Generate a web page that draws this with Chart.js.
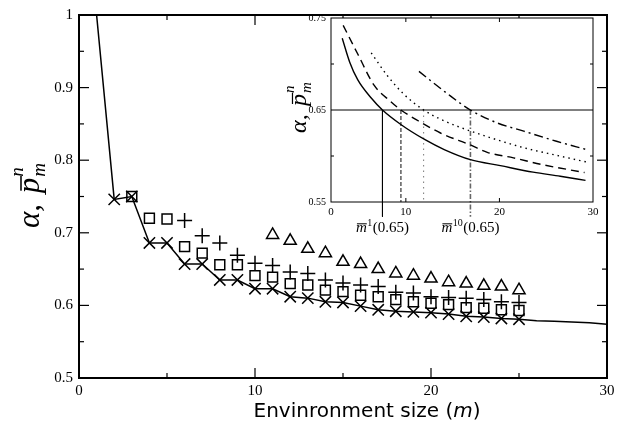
<!DOCTYPE html>
<html>
<head>
<meta charset="utf-8">
<script src="https://cdn.jsdelivr.net/npm/chart.js@4.4.1/dist/chart.umd.min.js"></script>
<style>
  html, body { margin: 0; padding: 0; background: #fff; }
  #wrap { position: relative; width: 633px; height: 424px; }
  #wrap canvas { position: absolute; left: 0; top: 0; }
</style>
</head>
<body>
<div id="wrap">
  <canvas id="mainChart" width="633" height="424"></canvas>
  <canvas id="insetChart" width="633" height="424"></canvas>
</div>
<script>
// ---- main panel data (environment size m) ----
const alphaM    = [1, 2, 3, 4, 5, 6, 7, 8, 9, 10, 11, 12, 13, 14, 15, 16, 17, 18, 19, 20, 21, 22, 23, 24, 25, 26, 27, 28, 29, 30];
const alphaVals = [1.0, 0.746, 0.750, 0.686, 0.686, 0.657, 0.657, 0.635, 0.635, 0.623, 0.623, 0.612, 0.610, 0.605, 0.604,
                   0.599, 0.594, 0.592, 0.591, 0.590, 0.588, 0.585, 0.584, 0.582, 0.581, 0.579, 0.578, 0.577, 0.576, 0.574];

const crossM    = [2, 3, 4, 5, 6, 7, 8, 9, 10, 11, 12, 13, 14, 15, 16, 17, 18, 19, 20, 21, 22, 23, 24, 25];
const crossVals = [0.746, 0.750, 0.686, 0.686, 0.657, 0.657, 0.635, 0.635, 0.623, 0.623, 0.612, 0.610,
                   0.605, 0.604, 0.599, 0.594, 0.592, 0.591, 0.590, 0.588, 0.585, 0.584, 0.582, 0.581];

const squareM    = [3, 4, 5, 6, 7, 8, 9, 10, 11, 12, 13, 14, 15, 16, 17, 18, 19, 20, 21, 22, 23, 24, 25];
const squareVals = [0.750, 0.720, 0.719, 0.681, 0.672, 0.656, 0.656, 0.641, 0.639, 0.630, 0.628, 0.621,
                    0.619, 0.614, 0.612, 0.608, 0.605, 0.603, 0.601, 0.597, 0.596, 0.594, 0.593];

const plusM    = [6, 7, 8, 9, 10, 11, 12, 13, 14, 15, 16, 17, 18, 19, 20, 21, 22, 23, 24, 25];
const plusVals = [0.717, 0.696, 0.686, 0.669, 0.658, 0.655, 0.646, 0.644, 0.635, 0.631, 0.628, 0.626,
                  0.618, 0.617, 0.612, 0.611, 0.610, 0.608, 0.605, 0.604];

const triM    = [11, 12, 13, 14, 15, 16, 17, 18, 19, 20, 21, 22, 23, 24, 25];
const triVals = [0.697, 0.689, 0.678, 0.672, 0.660, 0.657, 0.650, 0.644, 0.641, 0.637, 0.632, 0.630, 0.627, 0.626, 0.621];

const mainXTicks = [0, 10, 20, 30];
const mainYTicks = [0.5, 0.6, 0.7, 0.8, 0.9, 1];

// ---- inset data (curves crossing the 0.65 level) ----
const insetSolidM  = [3.2, 4.0, 4.85, 6.3, 7.5, 9.5, 12, 14.1, 16.9, 20.1, 23.6, 26.5, 29.2];
const insetSolid   = [0.728, 0.702, 0.683, 0.663, 0.650, 0.634, 0.618, 0.607, 0.596, 0.5895, 0.5825, 0.578, 0.5735];

const insetDashedM = [3.3, 4.9, 6.6, 8.4, 9.47, 11.2, 13.7, 16.9, 18.7, 21.5, 24.4, 29.1];
const insetDashed  = [0.742, 0.710, 0.677, 0.659, 0.650, 0.639, 0.625, 0.612, 0.604, 0.598, 0.591, 0.582];

const insetDottedM = [6.3, 8.05, 9.8, 11.9, 13.7, 15.85, 19, 22.6, 26, 29.3];
const insetDotted  = [0.712, 0.687, 0.667, 0.650, 0.640, 0.631, 0.620, 0.609, 0.601, 0.5935];

const insetDashDotM = [11.4, 14.4, 16.9, 19.75, 22.6, 26.1, 29.3];
const insetDashDot  = [0.692, 0.668, 0.650, 0.636, 0.627, 0.616, 0.607];

const level = 0.65;
const crossings   = [7.5, 9.47, 11.9, 16.9];      // m where each curve hits the level
const dropTo      = [0.534, 0.55, 0.55, 0.534];   // how far each marker line goes down
const insetXTicks  = [2, 10, 20, 30];
const insetXLabels = ['0', '10', '20', '30'];
const insetYTicks  = [0.55, 0.65, 0.75];

function pts(xs, ys) {
    return xs.map((x, i) => ({ x: x, y: ys[i] }));
}

function line(ctx, x1, y1, x2, y2) {
    ctx.beginPath();
    ctx.moveTo(x1, y1);
    ctx.lineTo(x2, y2);
    ctx.stroke();
}

// rotated "alpha, p-bar^n_m" axis title
function drawAlphaTitle(ctx, cx, cy, size) {
    ctx.save();
    ctx.translate(cx, cy);
    ctx.rotate(-Math.PI / 2);
    ctx.fillStyle = '#000';
    const big = 'italic ' + size + 'px "Liberation Serif"';
    const small = 'italic ' + Math.round(size * 0.62) + 'px "Liberation Serif"';
    ctx.font = big;
    const wa = ctx.measureText('\u03b1,').width;
    const wp = ctx.measureText('p').width;
    ctx.font = small;
    const ws = ctx.measureText('m').width;
    const gap = size * 0.35;
    let x0 = -(wa + gap + wp + ws) / 2;
    const base = size * 0.22;
    ctx.font = big;
    ctx.fillText('\u03b1,', x0, base);
    x0 += wa + gap;
    ctx.fillText('p', x0, base);
    ctx.fillRect(x0 + size * 0.08, base - size * 0.6, wp * 0.95, Math.max(1, size * 0.05));
    x0 += wp + 1;
    ctx.font = small;
    ctx.fillText('n', x0, base - size * 0.5);
    ctx.fillText('m', x0, base + size * 0.2);
    ctx.restore();
}

// "m-bar^k(0.65)" label under the inset
function drawMbar(ctx, cx, base, sup, size) {
    const it = 'italic ' + size + 'px "Liberation Serif"';
    const sm = Math.round(size * 0.68) + 'px "Liberation Serif"';
    const nm = size + 'px "Liberation Serif"';
    const tail = '(' + level.toFixed(2) + ')';
    ctx.font = it; const wm = ctx.measureText('m').width;
    ctx.font = sm; const wsup = ctx.measureText(sup).width;
    ctx.font = nm; const wt = ctx.measureText(tail).width;
    let x0 = cx - (wm + wsup + 1 + wt) / 2;
    ctx.fillStyle = '#000';
    ctx.font = it; ctx.fillText('m', x0, base);
    ctx.fillRect(x0 + 1, base - size * 0.58, wm - 1, 1);
    x0 += wm + 0.5;
    ctx.font = sm; ctx.fillText(sup, x0, base - size * 0.38);
    x0 += wsup + 0.5;
    ctx.font = nm; ctx.fillText(tail, x0, base);
}

const mainDecor = {
    id: 'mainDecor',
    afterDraw(chart) {
        const { ctx, chartArea: a, scales: { x, y } } = chart;
        ctx.save();
        ctx.strokeStyle = '#000';
        ctx.lineWidth = 1.2;
        for (let v = 0; v <= 30; v += 5) {
            const px = x.getPixelForValue(v);
            const len = v % 10 === 0 ? 10 : 5;
            line(ctx, px, a.bottom, px, a.bottom - len);
            line(ctx, px, a.top, px, a.top + len);
        }
        for (let k = 0; k <= 10; k++) {
            const py = y.getPixelForValue(0.5 + k * 0.05);
            const len = k % 2 === 0 ? 10 : 5;
            line(ctx, a.left, py, a.left + len, py);
            line(ctx, a.right, py, a.right - len, py);
        }
        ctx.lineWidth = 2;
        ctx.strokeRect(a.left, a.top, a.right - a.left, a.bottom - a.top);

        // x title with italic m
        ctx.fillStyle = '#000';
        const f1 = '20px "DejaVu Sans"', f2 = 'italic 20px "DejaVu Sans"';
        ctx.font = f1; const w1 = ctx.measureText('Envinronment size (').width;
        const w3 = ctx.measureText(')').width;
        ctx.font = f2; const w2 = ctx.measureText('m').width;
        let tx = 367 - (w1 + w2 + w3) / 2;
        const ty = 417;
        ctx.font = f1; ctx.fillText('Envinronment size (', tx, ty);
        ctx.font = f2; ctx.fillText('m', tx + w1, ty);
        ctx.font = f1; ctx.fillText(')', tx + w1 + w2, ty);

        drawAlphaTitle(ctx, 32, 196, 31);
        ctx.restore();
    }
};

const insetDecor = {
    id: 'insetDecor',
    beforeDatasetsDraw(chart) {
        const { ctx, chartArea: a } = chart;
        ctx.save();
        ctx.fillStyle = '#fff';
        ctx.fillRect(a.left, a.top, a.right - a.left, a.bottom - a.top);
        ctx.restore();
    },
    afterDraw(chart) {
        const { ctx, chartArea: a, scales: { x, y } } = chart;
        ctx.save();
        ctx.strokeStyle = '#000';
        ctx.lineWidth = 1;
        [10, 20].forEach(v => {
            const px = x.getPixelForValue(v);
            line(ctx, px, a.bottom, px, a.bottom - 4);
            line(ctx, px, a.top, px, a.top + 4);
        });
        [0.6, 0.7].forEach(v => {
            const py = y.getPixelForValue(v);
            line(ctx, a.left, py, a.left + 3, py);
            line(ctx, a.right, py, a.right - 3, py);
        });
        ctx.strokeRect(a.left, a.top, a.right - a.left, a.bottom - a.top);

        drawMbar(ctx, x.getPixelForValue(crossings[0]), 232, '1', 15);
        drawMbar(ctx, x.getPixelForValue(crossings[3]), 232, '10', 15);
        drawAlphaTitle(ctx, 301, 108, 24);
        ctx.restore();
    }
};

const markerBase = {
    showLine: false,
    borderColor: '#000',
    backgroundColor: 'rgba(0,0,0,0)',
    borderWidth: 1.5
};

new Chart(document.getElementById('mainChart'), {
    type: 'scatter',
    data: {
        datasets: [
            { type: 'line', data: pts(alphaM, alphaVals), showLine: true, borderColor: '#000',
              borderWidth: 1.5, pointRadius: 0, tension: 0, fill: false },
            Object.assign({ data: pts(crossM, crossVals), pointStyle: 'crossRot', pointRadius: 8 }, markerBase),
            Object.assign({ data: pts(squareM, squareVals), pointStyle: 'rect', pointRadius: 7 }, markerBase),
            Object.assign({ data: pts(plusM, plusVals), pointStyle: 'cross', pointRadius: 7.5 }, markerBase),
            Object.assign({ data: pts(triM, triVals), pointStyle: 'triangle', pointRadius: 7 }, markerBase)
        ]
    },
    options: {
        responsive: false,
        animation: false,
        events: [],
        layout: { padding: { left: 0, right: 26, top: 8, bottom: 0 } },
        plugins: { legend: { display: false }, tooltip: { enabled: false } },
        scales: {
            x: {
                type: 'linear', min: 0, max: 30,
                afterBuildTicks: s => { s.ticks = mainXTicks.map(v => ({ value: v })); },
                afterFit: s => { s.height = 46; },
                grid: { display: false, drawTicks: false },
                border: { display: false },
                ticks: { color: '#000', padding: 4, maxRotation: 0,
                         font: { family: 'Liberation Serif', size: 15 } }
            },
            y: {
                min: 0.5, max: 1,
                afterBuildTicks: s => { s.ticks = mainYTicks.map(v => ({ value: v })); },
                afterFit: s => { s.width = 79; },
                grid: { display: false, drawTicks: false },
                border: { display: false },
                ticks: { color: '#000', padding: 6,
                         font: { family: 'Liberation Serif', size: 15 },
                         callback: v => String(Math.round(v * 10) / 10) }
            }
        }
    },
    plugins: [mainDecor]
});

const curve = (xs, ys, dash) => ({
    type: 'line', data: pts(xs, ys), showLine: true, borderColor: '#000', borderWidth: 1.4,
    borderDash: dash, pointRadius: 0, cubicInterpolationMode: 'monotone', fill: false
});
const dashes = [[], [8, 5], [1.5, 4], [9, 4, 2, 4]];
const dropColors = ['#000', '#666', '#777', '#666'];
const dropWidths = [1, 1.6, 1, 1.6];

const insetSets = [
    curve(insetSolidM, insetSolid, dashes[0]),
    curve(insetDashedM, insetDashed, dashes[1]),
    curve(insetDottedM, insetDotted, dashes[2]),
    curve(insetDashDotM, insetDashDot, dashes[3]),
    { type: 'line', data: [{ x: insetXTicks[0], y: level }, { x: insetXTicks[3], y: level }],
      showLine: true, borderColor: '#000', borderWidth: 1, pointRadius: 0 }
];
crossings.forEach((c, i) => {
    insetSets.push({
        type: 'line', data: [{ x: c, y: level }, { x: c, y: dropTo[i] }], showLine: true,
        borderColor: dropColors[i], borderWidth: dropWidths[i], borderDash: i === 3 ? [5, 2, 1.5, 2] : (i === 1 ? [4, 2] : dashes[i]),
        pointRadius: 0, clip: false
    });
});

new Chart(document.getElementById('insetChart'), {
    type: 'scatter',
    data: { datasets: insetSets },
    options: {
        responsive: false,
        animation: false,
        events: [],
        layout: { padding: { left: 0, right: 40, top: 18, bottom: 0 } },
        plugins: { legend: { display: false }, tooltip: { enabled: false } },
        scales: {
            x: {
                type: 'linear', min: insetXTicks[0], max: insetXTicks[3],
                afterBuildTicks: s => { s.ticks = insetXTicks.map(v => ({ value: v })); },
                afterFit: s => { s.height = 222; },
                grid: { display: false, drawTicks: false },
                border: { display: false },
                ticks: { color: '#000', padding: 4, maxRotation: 0,
                         font: { family: 'Liberation Serif', size: 11 },
                         callback: (v, i) => insetXLabels[i] }
            },
            y: {
                min: 0.55, max: 0.75,
                afterBuildTicks: s => { s.ticks = insetYTicks.map(v => ({ value: v })); },
                afterFit: s => { s.width = 331; },
                grid: { display: false, drawTicks: false },
                border: { display: false },
                ticks: { color: '#000', padding: 5,
                         font: { family: 'Liberation Serif', size: 10 },
                         callback: v => v.toFixed(2) }
            }
        }
    },
    plugins: [insetDecor]
});
</script>
</body>
</html>
